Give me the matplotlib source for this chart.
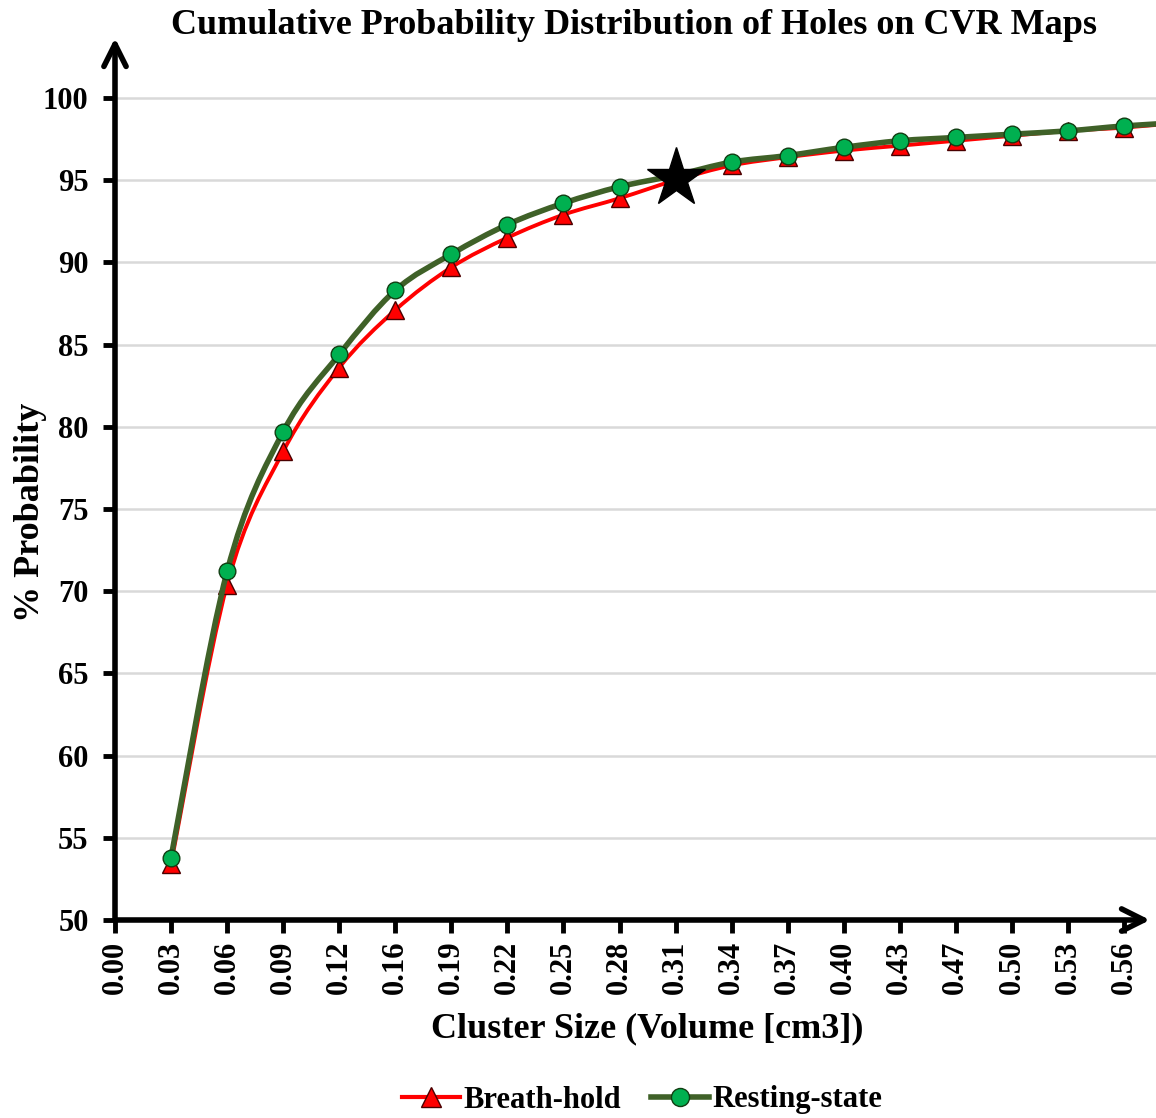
import numpy as np
import matplotlib
matplotlib.use("Agg")
import matplotlib.pyplot as plt
from matplotlib.path import Path
from matplotlib.patches import PathPatch
from matplotlib.lines import Line2D

# ---------------- data ----------------
x_labels = ["0.00", "0.03", "0.06", "0.09", "0.12", "0.16", "0.19", "0.22", "0.25",
            "0.28", "0.31", "0.34", "0.37", "0.40", "0.43", "0.47", "0.50", "0.53", "0.56"]
# data categories (last one, 0.59, lies just beyond the visible axis)
data_cats = ["0.03", "0.06", "0.09", "0.12", "0.16", "0.19", "0.22", "0.25", "0.28",
             "0.31", "0.34", "0.37", "0.40", "0.43", "0.47", "0.50", "0.53", "0.56", "0.59"]
breath_hold = [53.4, 70.4, 78.5, 83.6, 87.1, 89.7, 91.5, 92.9, 93.9,
               95.0, 95.9, 96.4, 96.8, 97.1, 97.4, 97.7, 98.0, 98.2, 98.5]
resting_state = [53.8, 71.2, 79.7, 84.4, 88.3, 90.5, 92.3, 93.6, 94.6,
                 95.3, 96.1, 96.5, 97.0, 97.4, 97.6, 97.8, 98.0, 98.3, 98.5]
star_cat = "0.31"
star_value = 95.15
y_ticks = [50, 55, 60, 65, 70, 75, 80, 85, 90, 95, 100]

# ---------------- style ----------------
plt.rcParams['font.family'] = ['Liberation Serif', 'DejaVu Serif']
plt.rcParams['font.weight'] = 'bold'

RED = "#ff0000"
GREEN_LINE = "#3f6128"
GREEN_FILL = "#00b050"

W, H = 1156, 1118
fig = plt.figure(figsize=(W / 100, H / 100), dpi=100)
left_px, right_px, bottom_px, top_px = 115, 1156, 920, 38
ax = fig.add_axes([left_px / W, 1 - bottom_px / H,
                   (right_px - left_px) / W, (bottom_px - top_px) / H])

spacing = (1124 - 115) / 18.0
x_max = (right_px - left_px) / spacing
y_top = 50 + (bottom_px - top_px) / ((920 - 98) / 50.0)
ax.set_xlim(0, x_max)
ax.set_ylim(50, y_top)

pos = {lab: i for i, lab in enumerate(x_labels)}
xs = np.array([pos.get(c, len(x_labels)) for c in data_cats], dtype=float)
# the 0.59 category continues the uniform spacing
xs[-1] = xs[-2] + 1


def smooth_path(x, y, t=1.0 / 6.0):
    x = np.asarray(x, float)
    y = np.asarray(y, float)
    verts = [(x[0], y[0])]
    codes = [Path.MOVETO]
    n = len(x)
    for i in range(n - 1):
        p0 = (x[max(i - 1, 0)], y[max(i - 1, 0)])
        p1 = (x[i], y[i])
        p2 = (x[i + 1], y[i + 1])
        p3 = (x[min(i + 2, n - 1)], y[min(i + 2, n - 1)])
        c1 = (p1[0] + (p2[0] - p0[0]) * t, p1[1] + (p2[1] - p0[1]) * t)
        c2 = (p2[0] - (p3[0] - p1[0]) * t, p2[1] - (p3[1] - p1[1]) * t)
        verts += [c1, c2, p2]
        codes += [Path.CURVE4] * 3
    return Path(verts, codes)


# gridlines
for yv in y_ticks[1:]:
    ax.axhline(yv, color="#d9d9d9", lw=1.8, zorder=0)

# Breath-hold
ax.add_patch(PathPatch(smooth_path(xs, breath_hold), fill=False, ec=RED, lw=2.8,
                       zorder=3, capstyle='round'))
ax.plot(xs, breath_hold, ls='none', marker='^', ms=13, mfc=RED, mec="#4a0000",
        mew=1.0, zorder=4)
# Resting-state
ax.add_patch(PathPatch(smooth_path(xs, resting_state), fill=False, ec=GREEN_LINE, lw=4.0,
                       zorder=5, capstyle='round'))
ax.plot(xs, resting_state, ls='none', marker='o', ms=12, mfc=GREEN_FILL, mec="#123d12",
        mew=1.0, zorder=6)

# star
ax.plot([pos[star_cat]], [star_value], marker='*', ms=44, color='black', zorder=8)

# axes
for s in ax.spines.values():
    s.set_visible(False)
ax.annotate("", xy=(0, 1.0), xytext=(0, 0), xycoords='axes fraction',
            arrowprops=dict(arrowstyle='->', lw=4, color='black', mutation_scale=40,
                            shrinkA=0, shrinkB=0), annotation_clip=False)
arrow_end = (1150 - left_px) / spacing
ax.annotate("", xy=(arrow_end, 50), xytext=(0, 50), xycoords='data',
            arrowprops=dict(arrowstyle='->', lw=4, color='black', mutation_scale=40,
                            shrinkA=0, shrinkB=0), annotation_clip=False)

ax.set_xticks(range(len(x_labels)))
ax.set_xticklabels(x_labels, rotation=90, fontsize=22, fontweight='bold')
ax.set_yticks(y_ticks)
ax.set_yticklabels([str(v) for v in y_ticks], fontsize=22, fontweight='bold')
ax.tick_params(axis='both', direction='out', length=9, width=3.5, color='black', pad=6)
ax.tick_params(axis='y', pad=10)

ax.set_xlabel("Cluster Size (Volume [cm3])", fontsize=26, fontweight='bold')
ax.xaxis.set_label_coords((647 - left_px) / (right_px - left_px), -(1012 - 920) / (920 - 38))
ax.set_ylabel("% Probability", fontsize=26, fontweight='bold')
ax.yaxis.set_label_coords(-(115 - 47) / (right_px - left_px), (920 - 512) / (920 - 38))

fig.text(634 / W, 1 - 26 / H, "Cumulative Probability Distribution of Holes on CVR Maps",
         ha='center', va='center', fontsize=26, fontweight='bold')

handles = [
    Line2D([], [], color=RED, lw=3, marker='^', ms=14, mfc=RED, mec="#4a0000"),
    Line2D([], [], color=GREEN_LINE, lw=4, marker='o', ms=13, mfc=GREEN_FILL, mec="#123d12"),
]
fig.legend(handles, ["Breath-hold", "Resting-state"], loc='center',
           bbox_to_anchor=(642 / W, 1 - 1100 / H), ncol=2, frameon=False,
           prop=dict(size=22, weight='bold'), handlelength=1.9, handletextpad=0.1,
           columnspacing=1.0)

fig.savefig("out.png", dpi=100)
